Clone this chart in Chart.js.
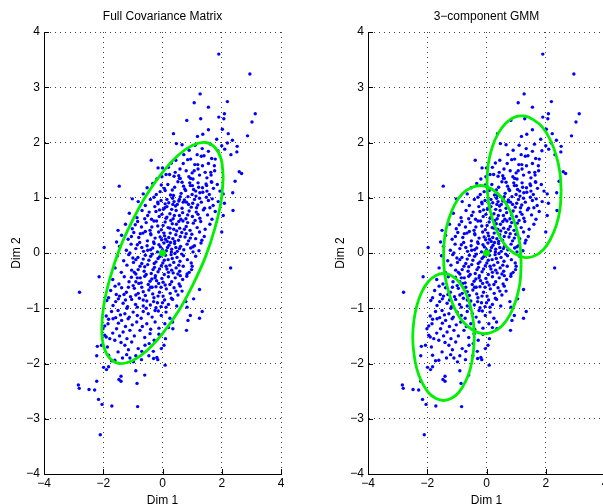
<!DOCTYPE html>
<html>
<head>
<meta charset="utf-8">
<script src="https://cdn.jsdelivr.net/npm/chart.js@4"></script>
<style>
html, body { margin: 0; padding: 0; background: #fff; overflow: hidden; width: 603px; height: 504px; }
.panel { position: absolute; top: 0; width: 291px; height: 512px; }
#left { left: 0; }
#right { left: 324px; }
</style>
</head>
<body>
<div class="panel" id="left"><canvas id="fullCovChart" width="291" height="512"></canvas></div>
<div class="panel" id="right"><canvas id="gmmChart" width="291" height="512"></canvas></div>
<script>
// ===== DATA =====
const panelTitles = ['Full Covariance Matrix', '3\u2212component GMM'];
const xLabel = 'Dim 1';
const yLabel = 'Dim 2';
const xTicks = [-4, -2, 0, 2, 4];
const yTicks = [-4, -3, -2, -1, 0, 1, 2, 3, 4];
const meanPoint = [0, 0];

// sample points (same cloud in both panels)
const samplePoints = [
  // upper tail
  [1.90,3.60],[2.95,3.24],[1.27,2.88],[1.07,2.72],[2.19,2.74],[1.55,2.64],[2.09,2.52],[3.13,2.52],
  [0.82,2.40],[1.29,2.43],[1.90,2.46],[2.07,2.43],[3.02,2.37],[1.55,2.23],[2.02,2.24],[0.37,2.16],
  [2.22,2.16],[1.36,2.15],[1.18,2.11],[2.87,2.12],[1.83,2.06],[2.36,2.04],[0.47,1.98],[0.66,1.96],
  [2.19,1.99],[2.00,1.94],[2.52,1.93],[1.34,1.89],[1.87,1.85],[2.51,1.83],[2.31,1.78],[1.17,1.78],
  [1.31,1.75],[1.40,1.76],[1.66,1.71],[1.78,1.70],[-0.38,1.68],[0.85,1.69],[1.09,1.60],[1.19,1.60],
  [-0.15,1.54],[0.00,1.54],[0.59,1.52],[0.80,1.49],[1.07,1.49],[1.76,1.49],[0.43,1.46],[1.44,1.46],
  [1.63,1.46],[2.59,1.47],[2.67,1.44],[0.12,1.42],[0.24,1.42],[0.39,1.39],[0.55,1.40],[0.89,1.38],
  [1.25,1.41],[1.64,1.41],[-0.19,1.34],[0.57,1.35],[1.03,1.34],[1.50,1.36],
  [0.90,1.86],[1.10,1.95],[1.55,1.84],[0.72,1.78],[1.62,1.97],[2.10,1.88],
  [0.20,1.55],[0.70,1.62],[1.35,1.58],[0.45,1.68],[1.00,1.45],[1.55,1.62],[0.95,1.70],[1.20,1.52],
  [0.60,1.35],[1.75,1.58],[-0.02,1.38],[0.30,1.63],
  // y 1.0 .. 1.3
  [-1.46,1.21],[2.45,1.30],[-0.04,1.23],[0.66,1.28],[0.94,1.22],[1.20,1.27],[1.49,1.22],[1.66,1.28],
  [0.75,1.16],[0.09,1.13],[-0.65,1.07],[2.05,1.07],[2.37,1.09],[-0.29,1.01],[0.37,1.04],[1.00,1.06],
  [1.26,1.09],[1.48,1.01],
  [-0.52,1.18],[-0.33,1.26],[-0.08,1.11],[0.18,1.24],[0.27,1.05],[0.41,1.19],[0.52,1.29],[0.63,1.08],
  [0.71,1.21],[0.86,1.02],[0.92,1.27],[1.05,1.15],[1.13,1.03],[1.22,1.19],[1.36,1.10],[1.47,1.25],
  [1.58,1.06],[1.72,1.17],[1.85,1.24],[0.33,1.14],[0.78,1.13],[1.01,1.22],[-0.21,1.06],[0.06,1.17],
  [1.65,1.29],[1.94,1.12],[0.60,1.02],[1.12,1.12],[1.35,1.18],[1.50,1.12],[0.95,1.35],
  // y 0.8 .. 1.0
  [-1.02,0.98],[0.57,0.97],[1.68,0.98],[-0.16,0.92],[0.09,0.89],[2.09,0.90],
  [-0.82,0.93],[-0.58,0.86],[-0.41,0.97],[-0.26,0.84],[-0.05,0.95],[0.08,0.82],[0.21,0.91],[0.34,0.99],
  [0.44,0.85],[0.55,0.94],[0.66,0.81],[0.74,0.96],[0.88,0.88],[0.97,0.83],[1.08,0.97],[1.19,0.87],
  [1.31,0.92],[1.42,0.81],[1.55,0.95],[1.71,0.86],[0.15,0.97],[0.50,0.88],[0.81,0.92],[1.25,0.99],
  [-0.15,0.89],[0.39,0.93],[1.02,0.90],[1.88,0.93],[0.15,0.84],[1.15,0.82],[0.70,0.92],[0.35,0.88],
  [1.60,0.82],
  // y 0.6 .. 0.8
  [2.38,0.77],[2.05,0.68],
  [-1.12,0.72],[-0.86,0.64],[-0.69,0.77],[-0.50,0.68],[-0.37,0.61],[-0.22,0.75],[-0.11,0.66],[0.03,0.79],
  [0.12,0.63],[0.25,0.71],[0.36,0.62],[0.46,0.77],[0.57,0.68],[0.68,0.73],[0.79,0.62],[0.90,0.76],
  [1.01,0.66],[1.14,0.74],[1.26,0.63],[1.38,0.78],[1.52,0.69],[1.67,0.61],[-0.02,0.70],[0.31,0.79],
  [0.62,0.61],[0.85,0.69],[1.20,0.70],[-0.60,0.62],[1.78,0.75],[-0.45,0.74],[0.40,0.68],[-0.10,0.78],
  [0.15,0.65],
  // y 0.4 .. 0.6
  [-1.50,0.41],
  [-1.25,0.52],[-1.02,0.44],[-0.84,0.57],[-0.71,0.47],[-0.55,0.55],[-0.42,0.41],[-0.29,0.58],[-0.16,0.49],
  [-0.04,0.42],[0.09,0.56],[0.19,0.46],[0.28,0.59],[0.38,0.43],[0.47,0.52],[0.58,0.45],[0.69,0.58],
  [0.80,0.48],[0.93,0.41],[1.04,0.54],[1.17,0.46],[1.29,0.57],[1.44,0.43],[1.60,0.52],[-0.92,0.51],
  [0.02,0.50],[0.33,0.53],[0.74,0.43],[1.10,0.59],[-0.36,0.47],[0.55,0.57],[0.48,0.40],[0.85,0.55],
  [0.25,0.45],[-0.20,0.58],
  // y 0.2 .. 0.4
  [-1.55,0.20],[2.00,0.38],
  [-1.38,0.32],[-1.16,0.25],[-0.97,0.37],[-0.80,0.28],[-0.66,0.36],[-0.51,0.22],[-0.39,0.33],[-0.25,0.27],
  [-0.13,0.38],[-0.03,0.24],[0.07,0.31],[0.16,0.21],[0.26,0.36],[0.35,0.26],[0.45,0.33],[0.54,0.23],
  [0.65,0.37],[0.76,0.29],[0.88,0.22],[0.99,0.34],[1.12,0.26],[1.25,0.38],[1.41,0.30],[-0.58,0.39],
  [-0.08,0.29],[0.21,0.28],[0.60,0.30],[0.94,0.27],[1.33,0.23],[-1.05,0.30],[0.41,0.21],[-0.75,0.35],
  [0.05,0.36],[-0.30,0.20],[0.80,0.35],[-0.40,0.35],[0.10,0.25],
  // y 0.0 .. 0.2
  [-1.97,0.10],[1.02,0.11],[1.03,0.02],
  [-1.45,0.12],[-1.22,0.05],[-1.06,0.16],[-0.90,0.08],[-0.77,0.19],[-0.64,0.03],[-0.52,0.13],[-0.40,0.06],
  [-0.28,0.17],[-0.17,0.02],[-0.07,0.11],[0.05,0.18],[0.13,0.04],[0.22,0.14],[0.31,0.07],[0.41,0.17],
  [0.50,0.03],[0.61,0.12],[0.72,0.06],[0.83,0.16],[0.95,0.09],[1.08,0.13],[1.23,0.04],[-0.33,0.09],
  [0.00,0.06],[0.27,0.19],[0.57,0.08],[-0.85,0.15],[0.17,0.10],[-0.12,0.15],[0.45,0.10],[1.30,0.18],
  [0.30,0.02],[-0.50,0.05],[-0.70,0.10],[-1.10,0.00],
  // y -0.2 .. 0.0
  [-1.52,-0.05],[-1.31,-0.14],[-1.14,-0.03],[-0.98,-0.17],[-0.83,-0.08],[-0.70,-0.19],[-0.58,-0.04],[-0.46,-0.13],
  [-0.34,-0.02],[-0.22,-0.16],[-0.10,-0.07],[0.01,-0.18],[0.10,-0.04],[0.19,-0.12],[0.29,-0.03],[0.38,-0.17],
  [0.49,-0.08],[0.59,-0.15],[0.71,-0.05],[0.84,-0.12],[0.97,-0.18],[1.12,-0.06],[-0.65,-0.11],[-0.15,-0.10],
  [0.06,-0.13],[0.33,-0.10],[-0.40,-0.06],[-1.00,-0.09],[0.65,-0.02],[-0.28,-0.19],[0.42,-0.01],[-0.05,-0.05],
  [-0.90,-0.12],
  // y -0.4 .. -0.2
  [2.30,-0.27],[1.00,-0.24],
  [-1.60,-0.27],[-1.39,-0.35],[-1.20,-0.22],[-1.04,-0.31],[-0.90,-0.38],[-0.76,-0.24],[-0.62,-0.33],[-0.50,-0.21],
  [-0.38,-0.37],[-0.27,-0.26],[-0.15,-0.34],[-0.04,-0.23],[0.06,-0.39],[0.15,-0.29],[0.25,-0.22],[0.36,-0.36],
  [0.46,-0.27],[0.58,-0.33],[0.70,-0.24],[0.83,-0.38],[0.98,-0.30],[-0.55,-0.39],[-0.10,-0.29],[0.31,-0.31],
  [-0.82,-0.30],[0.12,-0.24],[-0.32,-0.30],[0.52,-0.38],[-0.60,-0.25],[0.20,-0.35],[-0.95,-0.35],[0.55,-0.22],
  [0.90,-0.35],
  // y -0.6 .. -0.4
  [-2.14,-0.43],
  [-1.68,-0.48],[-1.47,-0.56],[-1.29,-0.43],[-1.13,-0.52],[-0.99,-0.59],[-0.85,-0.45],[-0.72,-0.54],[-0.60,-0.42],
  [-0.48,-0.57],[-0.36,-0.47],[-0.24,-0.41],[-0.13,-0.55],[-0.02,-0.46],[0.09,-0.58],[0.20,-0.43],[0.31,-0.52],
  [0.43,-0.45],[0.56,-0.56],[0.68,-0.48],[0.82,-0.42],[-0.90,-0.52],[-0.42,-0.51],[0.02,-0.53],[-1.05,-0.44],
  [0.25,-0.57],[-0.20,-0.50],[0.60,-0.41],[-0.75,-0.45],[-0.25,-0.45],[-0.80,-0.55],[-1.60,-0.60],[0.60,-0.60],
  // y -0.8 .. -0.6
  [-2.80,-0.71],[1.25,-0.66],
  [-1.75,-0.68],[-1.56,-0.75],[-1.38,-0.63],[-1.22,-0.71],[-1.08,-0.79],[-0.95,-0.64],[-0.82,-0.73],[-0.70,-0.62],
  [-0.58,-0.77],[-0.46,-0.67],[-0.33,-0.74],[-0.22,-0.61],[-0.10,-0.71],[0.02,-0.78],[0.13,-0.65],[0.26,-0.73],
  [0.39,-0.63],[0.52,-0.76],[0.66,-0.69],[-1.45,-0.78],[-0.65,-0.70],[-0.15,-0.78],[0.45,-0.69],[-0.90,-0.76],
  [-0.40,-0.62],[-0.35,-0.62],[-1.15,-0.62],[-0.05,-0.62],[-1.30,-0.75],
  // y -1.0 .. -0.8
  [-1.82,-0.81],[1.05,-0.83],[0.83,-0.98],[0.79,-0.88],
  [-1.88,-0.86],[-1.67,-0.95],[-1.49,-0.83],[-1.33,-0.91],[-1.18,-0.97],[-1.04,-0.84],[-0.91,-0.93],[-0.78,-0.82],
  [-0.65,-0.96],[-0.53,-0.87],[-0.41,-0.94],[-0.29,-0.81],[-0.17,-0.90],[-0.05,-0.97],[0.07,-0.85],[0.20,-0.93],
  [0.34,-0.84],[0.48,-0.96],[-1.58,-0.88],[-0.85,-0.98],[-0.22,-0.99],[0.12,-0.98],[-1.25,-0.85],[-0.65,-0.85],
  [0.30,-0.82],[-0.30,-0.88],[0.00,-0.90],
  // y -1.5 .. -1.0
  [1.34,-1.06],[0.94,-1.13],[0.86,-1.22],[1.25,-1.18],[0.81,-1.40],[0.34,-1.25],[0.35,-1.37],
  [-1.50,-1.04],[-1.27,-1.10],[-0.99,-1.07],[-0.65,-1.06],[-0.48,-1.10],[-0.25,-1.04],[-0.04,-1.13],[-1.84,-1.28],
  [-1.67,-1.19],[-1.38,-1.22],[-1.16,-1.19],[-0.87,-1.25],[-0.53,-1.28],[-0.25,-1.25],[-1.55,-1.37],[-1.33,-1.43],
  [-1.10,-1.40],[-0.76,-1.40],[-0.42,-1.46],[-2.01,-1.37],[-1.95,-1.49],
  [-1.90,-1.14],[-1.72,-1.06],[-1.58,-1.17],[-1.42,-1.12],[-1.12,-1.16],[-0.85,-1.13],[-0.72,-1.18],[-0.35,-1.16],
  [-0.14,-1.05],[0.12,-1.07],[0.25,-1.18],[-1.82,-1.20],[-1.20,-1.00],[-0.55,-1.00],
  [-1.95,-1.32],[-1.49,-1.27],[-1.25,-1.33],[-1.02,-1.30],[-0.68,-1.33],[-0.40,-1.38],[-0.12,-1.36],[0.08,-1.28],
  [0.20,-1.35],
  // y -2.0 .. -1.5
  [-1.78,-1.55],[-1.61,-1.58],[-1.27,-1.67],[-1.04,-1.61],[-0.82,-1.73],[-0.59,-1.67],[-0.31,-1.78],[-0.04,-1.73],
  [-1.50,-1.79],[-1.21,-1.84],[-1.61,-1.94],[-1.10,-1.90],[-2.06,-1.67],
  [-1.90,-1.52],[-1.68,-1.45],[-1.45,-1.50],[-1.20,-1.55],[-0.95,-1.50],[-0.60,-1.53],[-0.28,-1.58],[-0.12,-1.47],
  [0.10,-1.55],[-1.86,-1.70],[-1.40,-1.62],[-1.15,-1.75],[-0.70,-1.78],[-0.45,-1.64],[0.05,-1.67],
  [-1.72,-1.95],[-1.35,-1.90],[-0.98,-1.97],[-0.30,-1.91],[-1.82,-1.85],
  // lower tail
  [-2.20,-1.69],[-2.22,-1.86],[-1.99,-2.07],[-1.89,-2.11],[-1.82,-2.06],[-0.90,-2.13],[0.09,-2.03],[-0.16,-1.93],
  [-0.46,-1.86],[-0.71,-1.93],[-0.90,-1.86],[-0.19,-1.89],
  [-0.60,-2.21],[-1.40,-2.23],[-1.47,-2.29],[-1.40,-2.32],[-2.22,-2.32],[-0.86,-2.36],[-2.84,-2.39],[-2.81,-2.45],
  [-2.48,-2.47],[-2.29,-2.48],[-2.16,-2.65],[-2.04,-2.74],[-1.71,-2.77],[-0.84,-2.78],[-2.10,-3.29]
];

// ellipse outlines
const fullCovEllipse = [
  [2.05,1.37],[1.98,1.70],[1.77,1.91],[1.45,2.00],[1.02,1.95],[0.53,1.77],[0.00,1.46],[-0.53,1.06],
  [-1.02,0.58],[-1.45,0.07],[-1.77,-0.45],[-1.98,-0.94],[-2.05,-1.37],[-1.98,-1.70],[-1.77,-1.91],[-1.45,-2.00],
  [-1.02,-1.95],[-0.53,-1.77],[0.00,-1.46],[0.53,-1.06],[1.02,-0.58],[1.45,-0.07],[1.77,0.45],[1.98,0.94]
];
const gmmUpperEllipse = [
  [2.52,1.12],[2.48,1.45],[2.35,1.77],[2.15,2.05],[1.90,2.27],[1.59,2.41],[1.27,2.48],[0.95,2.46],
  [0.65,2.35],[0.39,2.16],[0.19,1.91],[0.06,1.61],[0.02,1.28],[0.06,0.95],[0.19,0.63],[0.39,0.35],
  [0.65,0.13],[0.95,-0.01],[1.27,-0.08],[1.59,-0.06],[1.90,0.05],[2.15,0.24],[2.35,0.49],[2.48,0.79]
];
const gmmMiddleEllipse = [
  [1.17,-0.20],[1.13,0.15],[0.99,0.48],[0.79,0.77],[0.52,1.00],[0.20,1.15],[-0.14,1.22],[-0.48,1.19],
  [-0.80,1.08],[-1.07,0.88],[-1.27,0.62],[-1.41,0.30],[-1.45,-0.04],[-1.41,-0.39],[-1.27,-0.72],[-1.07,-1.01],
  [-0.80,-1.24],[-0.48,-1.39],[-0.14,-1.46],[0.20,-1.43],[0.52,-1.32],[0.79,-1.12],[0.99,-0.86],[1.13,-0.54]
];
const gmmLowerEllipse = [
  [-0.41,-1.52],[-0.45,-1.22],[-0.55,-0.95],[-0.71,-0.71],[-0.93,-0.52],[-1.18,-0.41],[-1.45,-0.37],[-1.72,-0.41],
  [-1.97,-0.52],[-2.19,-0.71],[-2.35,-0.95],[-2.45,-1.22],[-2.49,-1.52],[-2.45,-1.82],[-2.35,-2.10],[-2.19,-2.33],
  [-1.97,-2.52],[-1.72,-2.63],[-1.45,-2.67],[-1.18,-2.63],[-0.93,-2.52],[-0.71,-2.33],[-0.55,-2.10],[-0.45,-1.82]
];

// ===== CHART HELPERS =====
const FONT = { family: "'Liberation Sans', Arial, Helvetica, sans-serif", size: 12, weight: 'normal' };
const BLUE = '#0000ff';
const GREEN = '#00f000';

const toXY = arr => arr.map(p => ({ x: p[0], y: p[1] }));
const closeLoop = arr => toXY(arr.concat([arr[0]]));
const fmt = v => String(v).replace('-', '\u2212');

// MATLAB style ticks pointing into the axes
const inwardTicks = {
  id: 'inwardTicks',
  afterDraw(chart) {
    const { ctx, chartArea: a, scales: { x, y } } = chart;
    ctx.save();
    ctx.strokeStyle = '#000';
    ctx.lineWidth = 1;
    ctx.beginPath();
    xTicks.forEach(v => {
      const px = Math.round(x.getPixelForValue(v)) + 0.5;
      ctx.moveTo(px, a.bottom);
      ctx.lineTo(px, a.bottom - 5);
    });
    yTicks.forEach(v => {
      const py = Math.round(y.getPixelForValue(v)) + 0.5;
      ctx.moveTo(a.left, py);
      ctx.lineTo(a.left + 5, py);
    });
    ctx.stroke();
    ctx.restore();
  }
};

function axisOptions(ticks, label, isX) {
  return {
    type: 'linear',
    min: -4,
    max: 4,
    afterBuildTicks: s => { s.ticks = ticks.map(v => ({ value: v })); },
    afterFit: s => { if (isX) s.height = 38; else s.width = 44; },
    grid: { color: 'rgba(0,0,0,0.75)', lineWidth: 1, drawTicks: false },
    border: { display: true, color: '#000', width: 1, dash: [1, 4] },
    ticks: { padding: isX ? 2.5 : 4, font: FONT, color: '#000', autoSkip: false, maxRotation: 0, callback: v => fmt(v) },
    title: { display: true, text: label, font: FONT, color: '#000', padding: isX ? { top: 0, bottom: 4.5 } : { top: 9, bottom: 0 } }
  };
}

function makeChart(canvasId, titleText, ellipses) {
  const datasets = [
    { data: toXY(samplePoints), pointRadius: 1.7, pointBackgroundColor: BLUE, pointBorderWidth: 0, order: 3 }
  ];
  ellipses.forEach(e => {
    datasets.push({ data: closeLoop(e), showLine: true, fill: false, borderColor: GREEN, borderWidth: 2.8,
      pointRadius: 0, tension: 0.4, order: 2 });
  });
  datasets.push({ data: toXY([meanPoint]), pointRadius: 3.5, pointBackgroundColor: GREEN, pointBorderWidth: 0, order: 1 });

  return new Chart(document.getElementById(canvasId), {
    type: 'scatter',
    data: { datasets },
    options: {
      responsive: false,
      animation: false,
      layout: { padding: { left: 0, right: 10, top: 0, bottom: 0 } },
      plugins: {
        legend: { display: false },
        tooltip: { enabled: false },
        title: { display: true, text: titleText, fullSize: false, font: FONT, color: '#000', padding: { top: 9.5, bottom: 8.1 } }
      },
      scales: {
        x: axisOptions(xTicks, xLabel, true),
        y: axisOptions(yTicks, yLabel, false)
      }
    },
    plugins: [inwardTicks]
  });
}

// ===== INITIALIZATION =====
makeChart('fullCovChart', panelTitles[0], [fullCovEllipse]);
makeChart('gmmChart', panelTitles[1], [gmmUpperEllipse, gmmMiddleEllipse, gmmLowerEllipse]);
</script>
</body>
</html>
